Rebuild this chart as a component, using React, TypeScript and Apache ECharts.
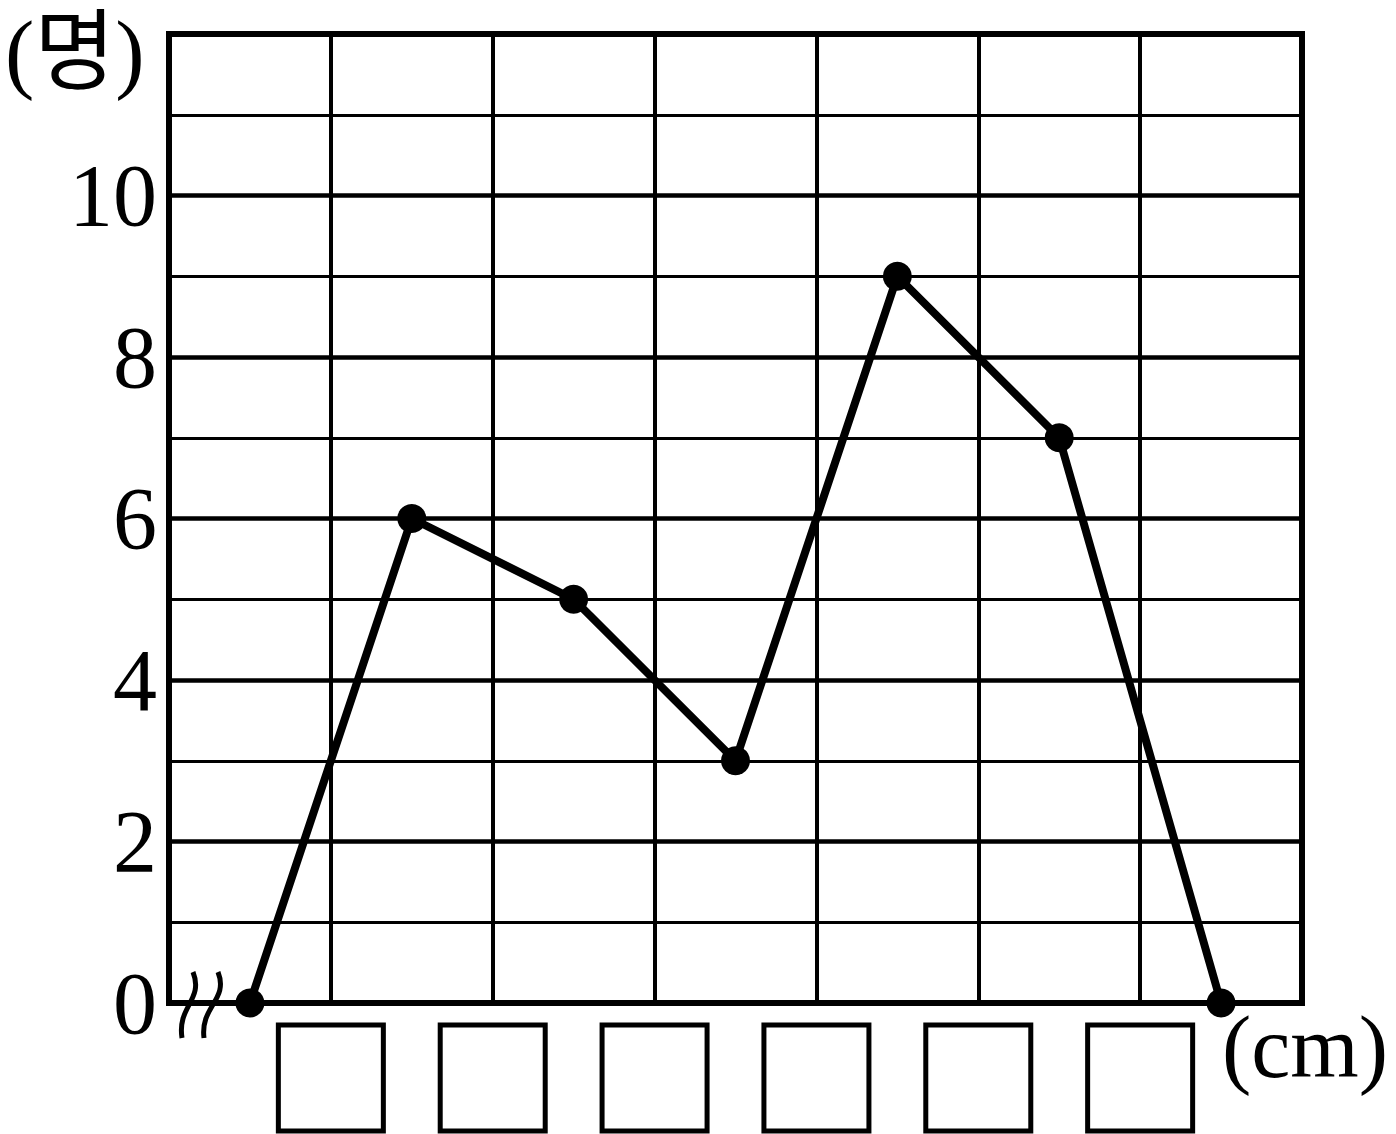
import React, { useEffect, useRef } from "react";
import * as echarts from "echarts";

const categories = ["1", "2", "3", "4", "5", "6", "7"];
const values = [0, 6, 5, 3, 9, 7, 0];
const yTickLabels = [0, 2, 4, 6, 8, 10];
const blankBoxPositions = [1, 2, 3, 4, 5, 6];
const yUnit = "(명)";
const xUnit = "(cm)";

const FONT = "'Liberation Serif', 'Noto Sans CJK KR', serif";

export default function App() {
  const ref = useRef<HTMLDivElement>(null);
  useEffect(() => {
    if (!ref.current) return;
    const chart = echarts.init(ref.current, null, { renderer: "svg" });
    chart.setOption({
      animation: false,
      backgroundColor: "#fff",
      grid: {
        left: 169,
        right: 94,
        top: 34,
        bottom: 131,
        show: true,
        borderColor: "#000",
        borderWidth: 6,
        backgroundColor: "transparent",
      },
      xAxis: [
        {
          type: "category",
          data: categories,
          boundaryGap: true,
          axisLine: { show: false },
          axisTick: { show: false },
          axisLabel: { show: false },
          splitLine: { show: true, interval: 0, lineStyle: { color: "#000", width: 4 } },
        },
        {
          type: "value",
          min: 0,
          max: 7,
          interval: 1,
          position: "bottom",
          axisLine: { show: false },
          axisTick: { show: false },
          splitLine: { show: false },
          axisLabel: {
            margin: 22,
            formatter: (v: number) => (blankBoxPositions.includes(v) ? "{b| }" : ""),
            rich: {
              b: {
                width: 105,
                height: 106,
                borderColor: "#000",
                borderWidth: 5,
                align: "center",
              },
            },
          },
        },
      ],
      yAxis: [
        {
          type: "value",
          min: 0,
          max: 12,
          interval: 1,
          axisLine: { show: false },
          axisTick: { show: false },
          axisLabel: {
            margin: 12,
            color: "#000",
            fontSize: 88,
            fontFamily: FONT,
            formatter: (v: number) => (yTickLabels.includes(v) ? String(v) : ""),
          },
          splitLine: { show: true, lineStyle: { color: "#000", width: 3 } },
        },
        {
          type: "value",
          min: 0,
          max: 12,
          interval: 2,
          axisLine: { show: false },
          axisTick: { show: false },
          axisLabel: { show: false },
          splitLine: { show: true, lineStyle: { color: "#000", width: 4.5 } },
        },
      ],
      series: [
        {
          type: "line",
          data: values,
          xAxisIndex: 0,
          yAxisIndex: 0,
          symbol: "circle",
          symbolSize: 29,
          lineStyle: { color: "#000", width: 8 },
          itemStyle: { color: "#000" },
          z: 10,
        },
      ],
      graphic: [
        {
          type: "text",
          left: 5,
          top: 8,
          style: { text: yUnit, font: `88px ${FONT}`, fill: "#000" },
        },
        {
          type: "text",
          left: 1222,
          top: 1003,
          style: { text: xUnit, font: `88px ${FONT}`, fill: "#000" },
        },
        {
          type: "bezierCurve",
          shape: { x1: 193, y1: 972, cpx1: 204, cpy1: 1000, cpx2: 177, cpy2: 1006, x2: 182, y2: 1038 },
          style: { stroke: "#000", lineWidth: 5, fill: null },
          z: 20,
        },
        {
          type: "bezierCurve",
          shape: { x1: 218, y1: 972, cpx1: 229, cpy1: 1000, cpx2: 200, cpy2: 1006, x2: 204, y2: 1038 },
          style: { stroke: "#000", lineWidth: 5, fill: null },
          z: 20,
        },
      ],
    });
    return () => chart.dispose();
  }, []);
  return (
    <div
      ref={ref}
      style={{ position: "absolute", left: 0, top: 0, width: 1396, height: 1134 }}
    />
  );
}
